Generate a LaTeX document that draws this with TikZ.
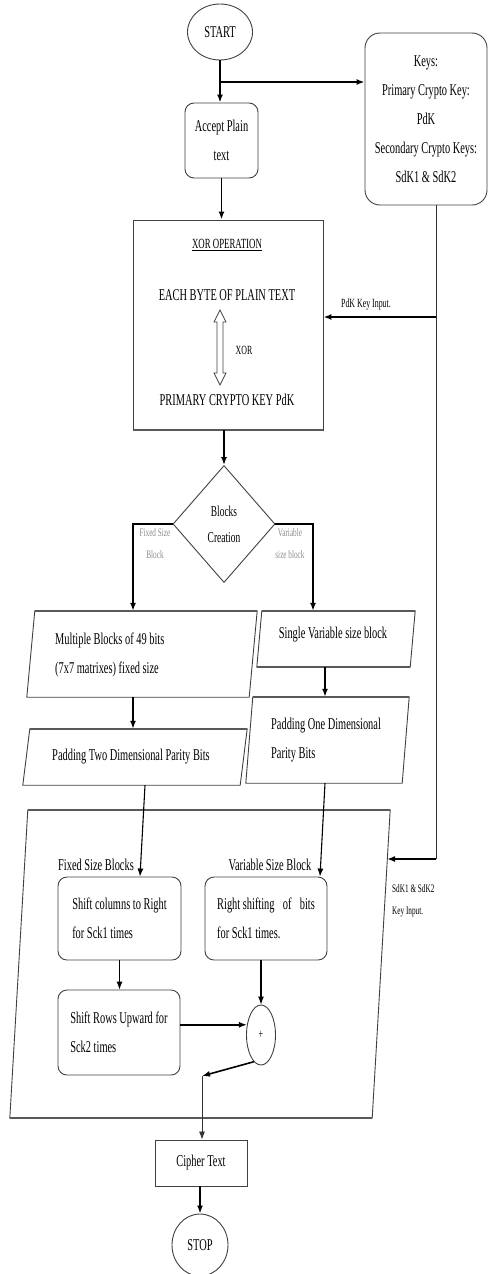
\documentclass[tikz,border=0pt]{standalone}
\usepackage{fontspec}
\setmainfont[FakeStretch=0.63]{Liberation Serif}
\usetikzlibrary{shapes.geometric,arrows.meta,calc}
\newcommand{\parabox}[2]{%
  \draw[boxline] (#1.south west) -- ($(#1.north west)+(#2,0)$) -- (#1.north east) -- ($(#1.south east)+(-#2,0)$) -- cycle;
  \draw[topline] ($(#1.north west)+(#2,0)$) -- (#1.north east);}
\begin{document}
\begin{tikzpicture}[x=1pt,y=-1pt,
  every node/.style={font=\fontsize{16.5}{29}\selectfont, inner sep=0pt},
  boxline/.style={draw=black!75, line width=0.9pt},
  topline/.style={draw=black!65, line width=2pt},
  rbox/.style={boxline, rounded corners=9pt},
  conn/.style={draw=black, line width=1.6pt, -{Latex[length=8pt,width=6pt]}},
  medconn/.style={draw=black, line width=1.1pt, -{Latex[length=8pt,width=6pt]}},
  thinline/.style={draw=black!80, line width=0.8pt},
  thinconn/.style={draw=black!80, line width=0.8pt, -{Latex[length=8pt,width=6pt]}},
  lbl/.style={font=\fontsize{12.5}{14}\selectfont},
  smalllbl/.style={font=\fontsize{11.5}{22}\selectfont, align=left},
  glbl/.style={font=\fontsize{11.5}{22}\selectfont, text=black!45, align=center},
]
\useasboundingbox (0,0) rectangle (490,1274);

% ---------- top part ----------
\node[ellipse, boxline, minimum width=65pt, minimum height=56pt] (start) at (220,32) {START};
\node[rbox, align=center, minimum width=73pt, minimum height=75pt] (accept) at (221.5,140.5) {Accept Plain\\text};
\node[boxline, rounded corners=15pt, align=center, minimum width=122pt, minimum height=172pt] (keys) at (426,119)
  {Keys:\\Primary Crypto Key:\\PdK\\Secondary Crypto Keys:\\SdK1 \& SdK2};

% ---------- XOR box ----------
\node[boxline, minimum width=190pt, minimum height=210pt] (xor) at (228,325) {};
\draw[topline] (xor.south west) -- (xor.south east);
\node[font=\fontsize{14}{16}\selectfont] (xorh) at (227,245) {\underline{XOR OPERATION}};
\node (eachb) at (227,295) {EACH BYTE OF PLAIN TEXT};
\node (primk) at (227,400) {PRIMARY CRYPTO KEY PdK};
\node[font=\fontsize{12.5}{14}\selectfont] (xorl) at (244,350) {XOR};
\draw[boxline, line width=0.7pt] (220,310) -- (226,322) -- (223,322) -- (223,373) -- (226,373) -- (220,385)
  -- (214,373) -- (217,373) -- (217,322) -- (214,322) -- cycle;
\node[lbl] (pdkin) at (366,305) {PdK Key Input.};

% ---------- decision ----------
\node[diamond, boxline, align=center, font=\fontsize{15}{26}\selectfont, minimum width=102pt, minimum height=117pt] (dia) at (224,524) {Blocks\\Creation};
\node[glbl] (fsb) at (155,544) {Fixed Size\\Block};
\node[glbl] (vsb) at (290,544) {Variable\\size block};

% ---------- parallelograms ----------
\node[minimum width=230pt, minimum height=86pt] (mb) at (142,654) {};
\parabox{mb}{8}
\node[align=left, anchor=west] (mbt) at (55,655) {Multiple Blocks of 49 bits\\(7x7 matrixes) fixed size};

\node[minimum width=158pt, minimum height=56pt] (sv) at (336,639) {};
\parabox{sv}{5}
\draw[topline] ($(sv.south west)$) -- ($(sv.south east)+(-5,0)$);
\node (svt) at (333,635) {Single Variable size block};

\node[minimum width=163pt, minimum height=86pt] (p1) at (327.5,740) {};
\parabox{p1}{7}
\node[align=left, anchor=west] (p1t) at (271,740) {Padding One Dimensional\\Parity Bits};

\node[minimum width=224pt, minimum height=56pt] (p2) at (135,757) {};
\parabox{p2}{7}
\node (p2t) at (131,757) {Padding Two Dimensional Parity Bits};

% ---------- container ----------
\node[minimum width=380pt, minimum height=308pt] (cont) at (200,964) {};
\parabox{cont}{18}
\draw[topline] (cont.south west) -- ($(cont.south east)+(-18,0)$);
\node (fsbl) at (96,865) {Fixed Size Blocks};
\node (vsbl) at (270,865) {Variable Size Block};
\node[smalllbl, anchor=west] (sdkin) at (392,901) {SdK1 \& SdK2\\Key Input.};

\node[rbox, align=left, minimum width=123pt, minimum height=83pt] (sc) at (119.5,918.5) {Shift columns to Right\\for Sck1 times};
\node[rbox, align=left, minimum width=122pt, minimum height=83pt] (rs) at (266,918.5) {Right shifting\enspace of\enspace bits\\for Sck1 times.};
\node[rbox, align=left, minimum width=122pt, minimum height=85pt] (sr) at (119,1032.5) {Shift Rows Upward for\\Sck2 times};
\node[ellipse, boxline, minimum width=29pt, minimum height=60pt, font=\fontsize{13}{14}\selectfont] (plus) at (261,1035) {+};

% ---------- bottom ----------
\node[boxline, minimum width=92pt, minimum height=46pt] (cipher) at (201,1163) {Cipher Text};
\node[ellipse, boxline, minimum width=56pt, minimum height=62pt] (stop) at (200,1245) {STOP};

% ---------- connectors ----------
\coordinate (j1) at (220,82);
\coordinate (kb) at (436,859);
\coordinate (kin) at (387,859);
\coordinate (mj) at (202,1076);

\draw[conn] (start.south) -- (start.south |- accept.north);
\draw[conn] (j1) -- (j1 -| keys.west);
\draw[conn] (accept.south) -- (accept.south |- xor.north);
\draw[thinline] ([xshift=10pt]keys.south) -- (kb);
\draw[conn] ([yshift=8pt]xor.east -| kb) -- ([yshift=8pt]xor.east);
\draw[conn] (kb) -- (kin);
\draw[conn] (dia.north |- xor.south) -- (dia.north);
\draw[conn] (dia.west) -| ([xshift=-9pt]mb.north);
\draw[conn] (dia.east) -| ([xshift=-23pt]sv.north);
\draw[conn] ([xshift=-11pt]sv.south) -- ([xshift=-11pt]sv.south |- p1.north);
\draw[conn] ([xshift=-9pt]mb.south) -- ([xshift=-9pt]mb.south |- p2.north);
\draw[medconn] ([xshift=10pt]p2.south) -- ([xshift=20.5pt]sc.north);
\draw[medconn] ([xshift=-2.5pt]p1.south) -- ([xshift=54pt]rs.north);
\draw[medconn] (sc.south) -- (sc.south |- sr.north);
\draw[medconn] (plus.north |- rs.south) -- (plus.north);
\draw[conn] (sr.east |- plus.144) -- (plus.144);
\draw[conn] (plus.255) -- (mj);
\draw[thinconn] (mj) -- (mj |- cipher.north);
\draw[conn] (cipher.south -| stop.north) -- (stop.north);
\end{tikzpicture}
\end{document}
